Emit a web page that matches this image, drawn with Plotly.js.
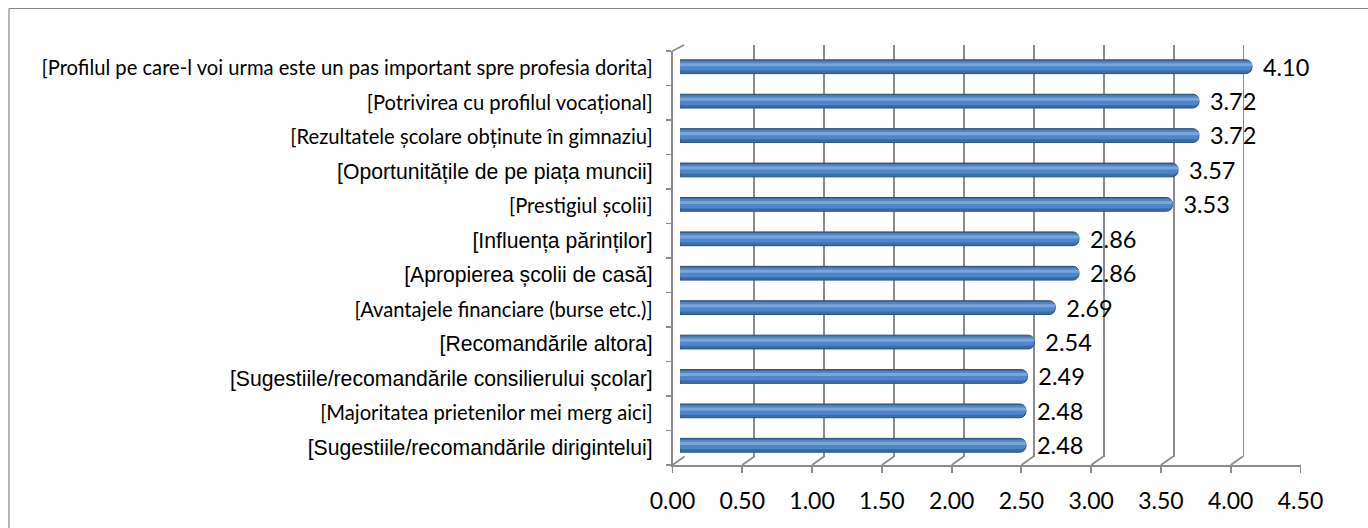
<!DOCTYPE html>
<html>
<head>
<meta charset="utf-8">
<script src="https://cdn.plot.ly/plotly-3.0.1.min.js"></script>
<style>
  html, body { margin: 0; padding: 0; background: #ffffff; }
  #chart { width: 1368px; height: 528px; }
</style>
</head>
<body>
<div id="chart"></div>
<script>
// ---------- data ----------
const categories = [
  "[Profilul pe care-l voi urma este un pas important spre profesia dorita]",
  "[Potrivirea cu profilul vocațional]",
  "[Rezultatele școlare obținute în gimnaziu]",
  "[Oportunitățile de pe piața muncii]",
  "[Prestigiul școlii]",
  "[Influența părinților]",
  "[Apropierea școlii de casă]",
  "[Avantajele financiare (burse etc.)]",
  "[Recomandările altora]",
  "[Sugestiile/recomandările consilierului școlar]",
  "[Majoritatea prietenilor mei merg aici]",
  "[Sugestiile/recomandările dirigintelui]"
];
const values = [4.10, 3.72, 3.72, 3.57, 3.53, 2.86, 2.86, 2.69, 2.54, 2.49, 2.48, 2.48];
const xTickValues = [0, 0.5, 1, 1.5, 2, 2.5, 3, 3.5, 4, 4.5];

// ---------- styling (not data) ----------
const labelFace = ["c","c","c","a","c","a","a","c","a","a","c","a"]; // c = Calibri-like, a = Arial-like
const FACE_C = "font-family:Lato;font-size:20.2px";
const FACE_A = "font-family:Liberation Sans;font-size:21.2px";
const W = 1368, H = 528;
const px = v => v / W;
const py = v => 1 - v / H;
const GRID = "#8c8c8c";
const BAR0 = 680, BARSCALE = 139.5;

const tickText = categories.map((c, i) =>
  '<span style="' + (labelFace[i] === "c" ? FACE_C : FACE_A) + '">' + c + '</span>');

const traces = [
  // back wall subplot (x / y): only gridlines
  { type: "scatter", x: [], y: [], xaxis: "x", yaxis: "y", showlegend: false, hoverinfo: "skip" },
  // bars (x2 / y2): layered to fake a cylinder shading
  { type: "bar", orientation: "h", x: values, y: categories, xaxis: "x2", yaxis: "y2",
    width: 0.40, marker: { color: "#3D6DA6", line: { color: "#2B4E7A", width: 1 }, cornerradius: 6 },
    showlegend: false, hoverinfo: "skip" },
  { type: "bar", orientation: "h", x: values, y: categories, xaxis: "x2", yaxis: "y2",
    width: 0.27, offset: -0.16, marker: { color: "#4F86C8", line: { width: 0 }, cornerradius: 4 },
    showlegend: false, hoverinfo: "skip" },
  { type: "bar", orientation: "h", x: values, y: categories, xaxis: "x2", yaxis: "y2",
    width: 0.09, offset: -0.10, marker: { color: "#78A5DB", line: { width: 0 }, cornerradius: 2 },
    showlegend: false, hoverinfo: "skip" },
  // value labels (own subplot, shifted slightly right/down of bar ends)
  { type: "scatter", mode: "text", x: values, y: categories, xaxis: "x4", yaxis: "y4",
    text: values.map(v => v.toFixed(2)), textposition: "middle right",
    textfont: { family: "Lato", size: 23.5, color: "#000000" }, cliponaxis: false,
    showlegend: false, hoverinfo: "skip" },
  // front axes subplot (x3 / y3)
  { type: "scatter", mode: "markers", x: values, y: categories, xaxis: "x3", yaxis: "y3",
    marker: { opacity: 0 }, showlegend: false, hoverinfo: "skip" }
];

const floorDiagonals = xTickValues.map(v => ({
  type: "line", xref: "x3", xsizemode: "pixel", xanchor: v, x0: 0, x1: 12,
  yref: "paper", y0: py(465), y1: py(456.5),
  line: { color: GRID, width: 1.8 }, layer: "below"
}));

const layout = {
  width: W, height: H,
  margin: { l: 0, r: 0, t: 0, b: 0, pad: 0 },
  paper_bgcolor: "#ffffff", plot_bgcolor: "rgba(0,0,0,0)",
  showlegend: false,
  barmode: "overlay",
  font: { family: "Lato", color: "#000000" },
  // back wall
  xaxis: { domain: [px(684), px(1313.5)], range: [0, 4.5], anchor: "y",
    tickvals: xTickValues, showticklabels: false, ticks: "",
    showgrid: true, gridcolor: GRID, gridwidth: 1.8, zeroline: false, showline: false, fixedrange: true },
  yaxis: { domain: [py(456.5), py(45)], range: [0, 1], anchor: "x",
    showgrid: false, showticklabels: false, zeroline: false, showline: false, fixedrange: true },
  // bars
  xaxis2: { domain: [px(BAR0), px(BAR0 + 4.5 * BARSCALE)], range: [0, 4.5], anchor: "y2",
    visible: false, fixedrange: true },
  yaxis2: { domain: [py(462.5), py(49.5)], type: "category", categoryarray: categories,
    categoryorder: "array", range: [11.5, -0.5], anchor: "x2", visible: false, fixedrange: true },
  // value labels axes (same scale as bars, offset)
  xaxis4: { domain: [px(BAR0 + 11), px(BAR0 + 11 + 4.5 * BARSCALE)], range: [0, 4.5], anchor: "y4",
    visible: false, fixedrange: true },
  yaxis4: { domain: [py(465.5), py(52.5)], type: "category", categoryarray: categories,
    categoryorder: "array", range: [11.5, -0.5], anchor: "x4", visible: false, fixedrange: true },
  // front axes
  xaxis3: { domain: [px(672.5), px(1300.5)], range: [0, 4.5], anchor: "y3",
    tickvals: xTickValues, tickformat: ".2f", ticks: "outside", ticklen: 6, tickwidth: 1.8,
    tickcolor: GRID, showline: true, linecolor: GRID, linewidth: 1.8, showgrid: false, zeroline: false,
    ticklabelstandoff: 9,
    tickfont: { family: "Lato", size: 23, color: "#000000" }, fixedrange: true },
  yaxis3: { domain: [py(465), py(51)], type: "category", categoryarray: categories,
    categoryorder: "array", range: [11.5, -0.5], anchor: "x3",
    tickvals: categories, ticktext: tickText, tickson: "boundaries",
    ticks: "outside", ticklen: 5, tickwidth: 1.8, tickcolor: GRID,
    showline: true, linecolor: GRID, linewidth: 1.8, showgrid: false, zeroline: false,
    ticklabelstandoff: 14, tickfont: { family: "Lato", size: 20, color: "#000000" }, fixedrange: true },
  shapes: [
    // chart border (top and left visible)
    { type: "line", xref: "paper", yref: "paper", x0: px(9), x1: 1, y0: py(8.5), y1: py(8.5),
      line: { color: "#868686", width: 1.2 } },
    { type: "line", xref: "paper", yref: "paper", x0: px(9), x1: px(9), y0: py(8.5), y1: 0,
      line: { color: "#868686", width: 1.2 } },
    // top-left wall corner
    { type: "line", xref: "paper", yref: "paper", x0: px(672.5), x1: px(684), y0: py(51), y1: py(45),
      line: { color: GRID, width: 1.8 } }
  ].concat(floorDiagonals)
};

Plotly.newPlot("chart", traces, layout, { displayModeBar: false, staticPlot: true });
</script>
</body>
</html>
